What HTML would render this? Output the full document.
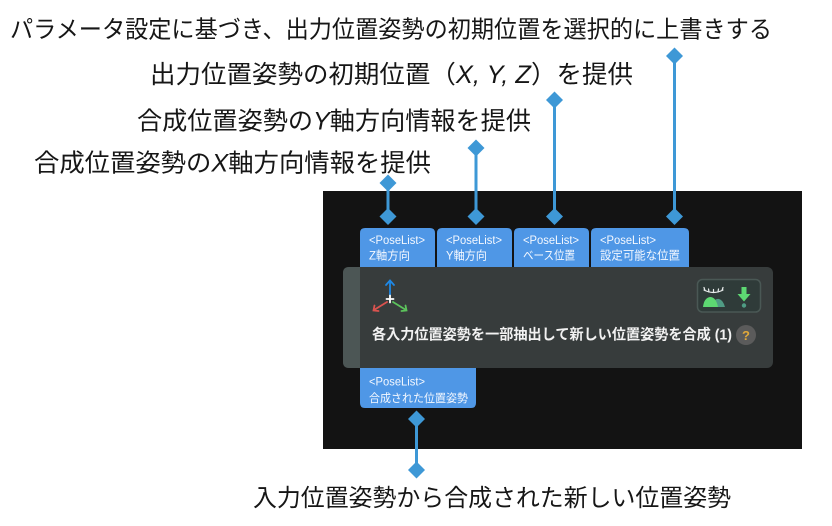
<!DOCTYPE html>
<html><head><meta charset="utf-8">
<style>
html,body{margin:0;padding:0;background:#fff;}
svg{display:block;}
.t{font-family:"Liberation Sans","Noto Sans CJK JP",sans-serif;}
</style></head>
<body>
<svg width="832" height="526" viewBox="0 0 832 526" xmlns="http://www.w3.org/2000/svg" class="t">
  <rect x="0" y="0" width="832" height="526" fill="#ffffff"/>
  <!-- dark panel -->
  <rect x="323" y="191" width="479" height="258" fill="#131313"/>

  <!-- big labels -->
  <text x="10" y="37.5" font-size="24" fill="#161616" textLength="762" lengthAdjust="spacingAndGlyphs">パラメータ設定に基づき、出力位置姿勢の初期位置を選択的に上書きする</text>
  <text x="150" y="83" font-size="25" fill="#161616" textLength="483" lengthAdjust="spacingAndGlyphs">出力位置姿勢の初期位置（<tspan font-style="italic">X, Y, Z</tspan>）を提供</text>
  <text x="137" y="129.5" font-size="25" fill="#161616" textLength="394" lengthAdjust="spacingAndGlyphs">合成位置姿勢の<tspan font-style="italic">Y</tspan>軸方向情報を提供</text>
  <text x="34" y="171.5" font-size="25" fill="#161616" textLength="397" lengthAdjust="spacingAndGlyphs">合成位置姿勢の<tspan font-style="italic">X</tspan>軸方向情報を提供</text>
  <text x="253" y="506" font-size="24" fill="#161616" textLength="478" lengthAdjust="spacingAndGlyphs">入力位置姿勢から合成された新しい位置姿勢</text>

  <!-- connectors -->
  <g stroke="#3e98d6" stroke-width="3" fill="none">
    <line x1="388" y1="183" x2="388" y2="216.5"/>
    <line x1="476" y1="148" x2="476" y2="216.5"/>
    <line x1="554.5" y1="100" x2="554.5" y2="216.5"/>
    <line x1="674.5" y1="56" x2="674.5" y2="216.5"/>
    <line x1="416.5" y1="419" x2="416.5" y2="470"/>
  </g>
  <g fill="#3e98d6">
    <path d="M388 174.5 L396.5 183 L388 191.5 L379.5 183 Z"/>
    <path d="M388 208 L396.5 216.5 L388 225 L379.5 216.5 Z"/>
    <path d="M476 139.5 L484.5 148 L476 156.5 L467.5 148 Z"/>
    <path d="M476 208 L484.5 216.5 L476 225 L467.5 216.5 Z"/>
    <path d="M554.5 91.5 L563 100 L554.5 108.5 L546 100 Z"/>
    <path d="M554.5 208 L563 216.5 L554.5 225 L546 216.5 Z"/>
    <path d="M674.5 47.5 L683 56 L674.5 64.5 L666 56 Z"/>
    <path d="M674.5 208 L683 216.5 L674.5 225 L666 216.5 Z"/>
    <path d="M416.5 410.5 L425 419 L416.5 427.5 L408 419 Z"/>
    <path d="M416.5 461.5 L425 470 L416.5 478.5 L408 470 Z"/>
  </g>

  <!-- input tabs -->
  <g fill="#4f97e6">
    <path d="M360 268 V233 Q360 228 365 228 H430 Q435 228 435 233 V268 Z"/>
    <path d="M437 268 V233 Q437 228 442 228 H507 Q512 228 512 233 V268 Z"/>
    <path d="M514 268 V233 Q514 228 519 228 H584 Q589 228 589 233 V268 Z"/>
    <path d="M591 268 V233 Q591 228 596 228 H684 Q689 228 689 233 V268 Z"/>
  </g>
  <g fill="#f4f8ff" font-size="11.5">
    <text x="369" y="244" textLength="56" lengthAdjust="spacingAndGlyphs">&lt;PoseList&gt;</text>
    <text x="446" y="244" textLength="56" lengthAdjust="spacingAndGlyphs">&lt;PoseList&gt;</text>
    <text x="523" y="244" textLength="56" lengthAdjust="spacingAndGlyphs">&lt;PoseList&gt;</text>
    <text x="600" y="244" textLength="56" lengthAdjust="spacingAndGlyphs">&lt;PoseList&gt;</text>
  </g>
  <g fill="#f4f8ff" font-size="12">
    <text x="369" y="259.5" textLength="41" lengthAdjust="spacingAndGlyphs">Z軸方向</text>
    <text x="446" y="259.5" textLength="41" lengthAdjust="spacingAndGlyphs">Y軸方向</text>
    <text x="523" y="259.5" textLength="52" lengthAdjust="spacingAndGlyphs">ベース位置</text>
    <text x="600" y="259.5" textLength="80" lengthAdjust="spacingAndGlyphs">設定可能な位置</text>
  </g>

  <!-- node body -->
  <rect x="343" y="267" width="430" height="101" rx="6" fill="#373c3c"/>
  <path d="M349 267 H360 V368 H349 Q343 368 343 362 V273 Q343 267 349 267 Z" fill="#4c5655"/>

  <!-- axis icon -->
  <g stroke-width="1.8" fill="none" stroke-linecap="round">
    <line x1="390" y1="295" x2="390" y2="281" stroke="#1e88e5"/>
    <polyline points="386,285 390,280.5 394,285" stroke="#1e88e5"/>
    <line x1="387" y1="302" x2="374" y2="310" stroke="#d9534f"/>
    <polyline points="374.5,305.5 373.5,310.5 378.5,311" stroke="#d9534f"/>
    <line x1="393" y1="302" x2="406" y2="310" stroke="#5cc35c"/>
    <polyline points="401.5,311 406.5,310.5 405.5,305.5" stroke="#5cc35c"/>
    <line x1="386.5" y1="299" x2="393.5" y2="299" stroke="#ffffff"/>
    <line x1="390" y1="295.5" x2="390" y2="302.5" stroke="#ffffff"/>
  </g>

  <!-- title -->
  <text x="372" y="339.5" font-size="14.5" font-weight="bold" fill="#f2f2f2" textLength="360" lengthAdjust="spacingAndGlyphs">各入力位置姿勢を一部抽出して新しい位置姿勢を合成 (1)</text>
  <circle cx="746" cy="335" r="10" fill="#5b5b5b"/>
  <text x="746" y="340" font-size="13" font-weight="bold" fill="#e0a83a" text-anchor="middle">?</text>

  <!-- icon box -->
  <rect x="697.5" y="279.5" width="63" height="32.5" rx="5" fill="#2f3b39" stroke="#4a5855" stroke-width="1.5"/>
  <g stroke="#e8ecec" stroke-width="1.2" fill="none" stroke-linecap="round">
    <path d="M704 290 Q713.5 295 723 290"/>
    <line x1="705" y1="290.5" x2="704" y2="287.5"/>
    <line x1="709" y1="292" x2="708.5" y2="289"/>
    <line x1="713.5" y1="292.5" x2="713.5" y2="289.5"/>
    <line x1="718" y1="292" x2="718.5" y2="289"/>
    <line x1="722" y1="290.5" x2="723" y2="287.5"/>
  </g>
  <path d="M711 307 Q714 298 719 299 Q723 300 725 307 Z" fill="#4f9c84"/>
  <path d="M703 307 Q704 298 710 297 Q716 297 718 307 Z" fill="#5dd872"/>
  <g fill="#5dd872">
    <rect x="741.5" y="287" width="5" height="8"/>
    <path d="M737.5 294 H750.5 L744 301.5 Z"/>
  </g>
  <circle cx="744" cy="305.5" r="2.2" fill="#4f9c84"/>

  <!-- output tab -->
  <path d="M360 368 H476 V403 Q476 408 471 408 H365 Q360 408 360 403 Z" fill="#4f97e6"/>
  <text x="369" y="385.5" font-size="11.5" fill="#f4f8ff" textLength="56" lengthAdjust="spacingAndGlyphs">&lt;PoseList&gt;</text>
  <text x="369" y="402" font-size="11.5" fill="#f4f8ff" textLength="99" lengthAdjust="spacingAndGlyphs">合成された位置姿勢</text>
</svg>
</body></html>
